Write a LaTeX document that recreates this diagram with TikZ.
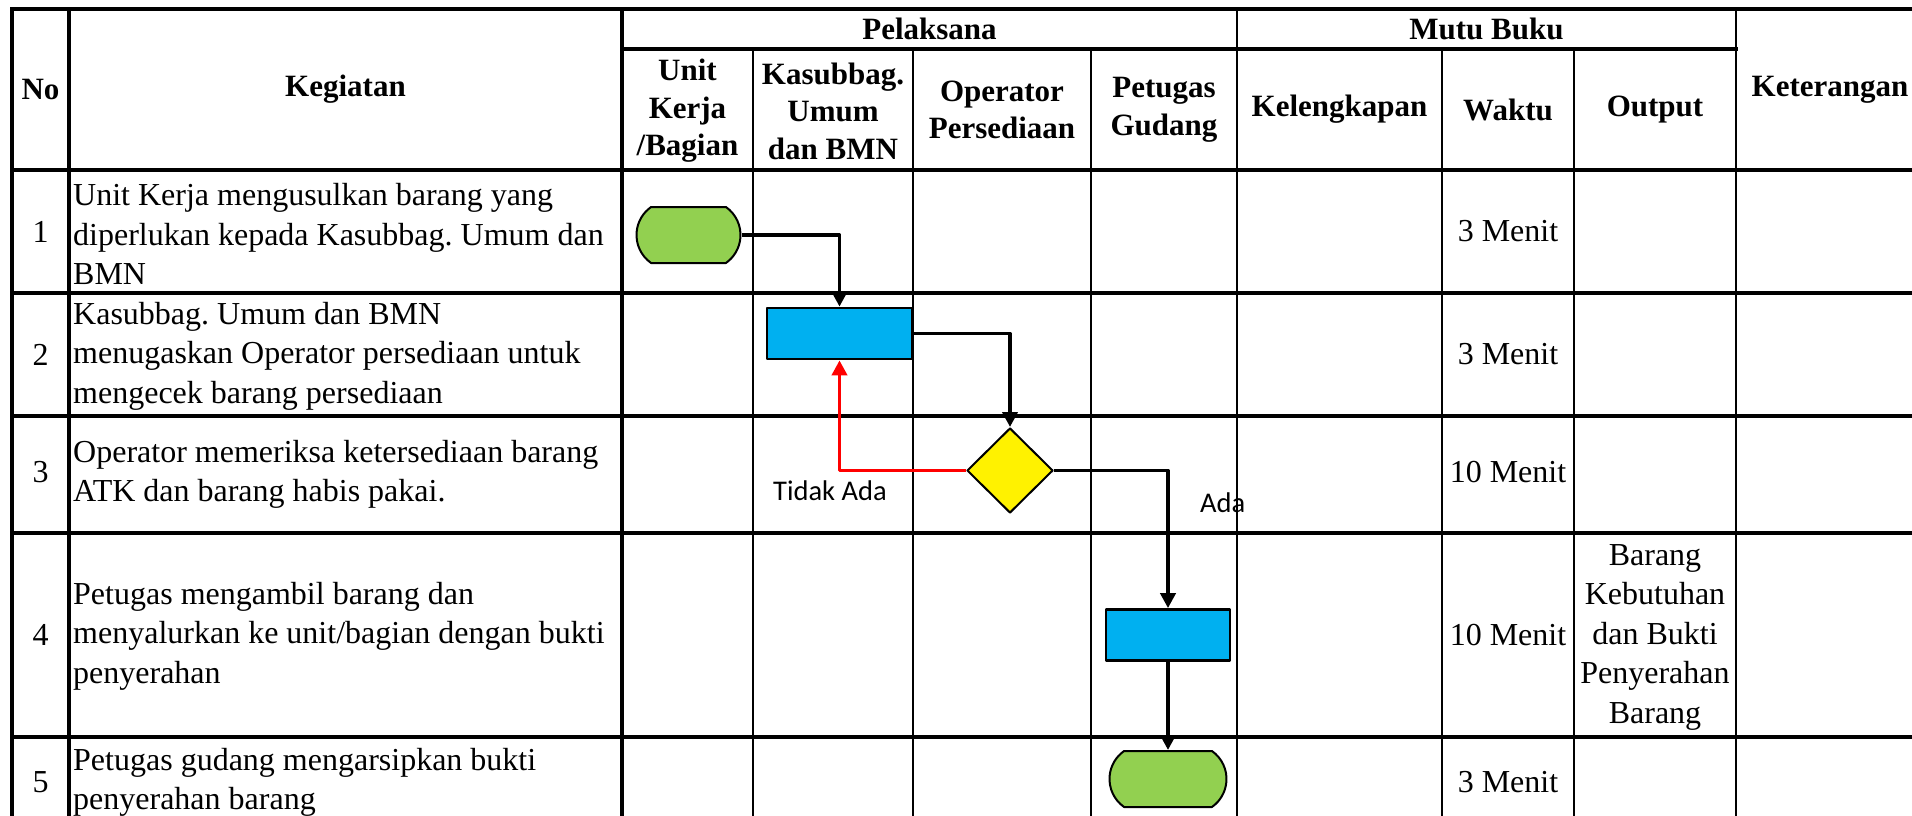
\documentclass[tikz,border=0pt]{standalone}
\usepackage{fontspec}
\setmainfont{Liberation Serif}
\newfontfamily\labelfont{Carlito}
\usetikzlibrary{shapes.geometric,shapes.misc,arrows.meta}
\definecolor{termgreen}{HTML}{92D050}
\definecolor{procblue}{HTML}{00B0F0}
\frenchspacing
\begin{document}
\begin{tikzpicture}[x=1pt,y=-1pt,line join=round,
    grid/.style={line width=2.6pt,line cap=rect},
    rowline/.style={line width=3.6pt,line cap=rect},
    head/.style={font=\fontsize{31}{37.5}\selectfont\bfseries,align=center,inner sep=0pt},
    cell/.style={font=\fontsize{32}{39.5}\selectfont,align=center,inner sep=0pt},
    task/.style={font=\fontsize{32}{39.5}\selectfont,align=left,inner sep=0pt,anchor=west},
    term/.style={draw,line width=2pt,fill=termgreen,rounded rectangle,rounded rectangle arc length=110,
      minimum width=104pt,minimum height=56pt,inner sep=0pt},
    proc/.style={draw,line width=2.7pt,fill=procblue,minimum height=51pt,inner sep=0pt},
    dec/.style={draw,line width=2pt,fill=yellow,diamond,minimum width=86pt,minimum height=85pt,inner sep=0pt},
    flow/.style={line width=3.8pt,-{Triangle[width=15pt,length=15pt]}},
    lbl/.style={font=\labelfont\fontsize{28.5}{34}\selectfont,inner sep=0pt,anchor=base west}]
  \useasboundingbox (0,0) rectangle (1912,816);
  \clip (0,0) rectangle (1912,816);
  \draw[rowline] (12,9) -- (1924,9) (622,49) -- (1736,49);
  \foreach \y in {170,293,416,533,737}
    \draw[rowline] (12,\y) -- (1924,\y);
  \foreach \x in {12,69,622}
    \draw[rowline] (\x,9) -- (\x,828);
  \foreach \x in {1237,1736}
    \draw[grid] (\x,9) -- (\x,828);
  \foreach \x in {753,913,1091,1442,1574}
    \draw[grid] (\x,49) -- (\x,828);

  \node[head] (hNo) at (40.5,89.5) {No};
  \node[head] (hKeg) at (345.5,89.5) {Kegiatan};
  \node[head] (hPel) at (929.5,29) {Pelaksana};
  \node[head] (hMutu) at (1486.5,29) {Mutu Buku};
  \node[head] (hKet) at (1830,89.5) {Keterangan};
  \node[head] (hUnit) at (687.5,111) {Unit\\Kerja\\/Bagian};
  \node[head] (hKasub) at (833,111) {Kasubbag.\\Umum\\dan BMN};
  \node[head] (hOp) at (1002,110) {Operator\\Persediaan};
  \node[head] (hPet) at (1164,110) {Petugas\\Gudang};
  \node[head] (hKel) at (1339.5,109.5) {Kelengkapan};
  \node[head] (hWaktu) at (1508,109.5) {Waktu};
  \node[head] (hOut) at (1655,109.5) {Output};

  \node[cell] (n1) at (40.5,231.5) {1};
  \node[cell] (n2) at (40.5,354.5) {2};
  \node[cell] (n3) at (40.5,472) {3};
  \node[cell] (n4) at (40.5,635) {4};
  \node[cell] (n5) at (40.5,782.5) {5};
  \node[task] (k1) at (73,234) {Unit Kerja mengusulkan barang yang\\diperlukan kepada Kasubbag. Umum dan\\BMN};
  \node[task] (k2) at (73,356) {Kasubbag. Umum dan BMN\\menugaskan Operator persediaan untuk\\mengecek barang persediaan};
  \node[task] (k3) at (73,474.5) {Operator memeriksa ketersediaan barang\\ATK dan barang habis pakai.};
  \node[task] (k4) at (73,636) {Petugas mengambil barang dan\\menyalurkan ke unit/bagian dengan bukti\\penyerahan};
  \node[task] (k5) at (73,782.5) {Petugas gudang mengarsipkan bukti\\penyerahan barang};
  \node[cell] (w1) at (1508,231.5) {3 Menit};
  \node[cell] (w2) at (1508,354.5) {3 Menit};
  \node[cell] (w3) at (1508,472) {10 Menit};
  \node[cell] (w4) at (1508,635) {10 Menit};
  \node[cell] (w5) at (1508,782.5) {3 Menit};
  \node[cell] (out4) at (1655,637) {Barang\\Kebutuhan\\dan Bukti\\Penyerahan\\Barang};

  \node[term] (t1) at (688.5,235) {};
  \node[proc,minimum width=145pt] (b2) at (839.5,333.5) {};
  \node[dec] (d3) at (1010,470.5) {};
  \node[proc,minimum width=124pt] (b4) at (1168,635) {};
  \node[term,minimum width=117pt] (t5) at (1168,779) {};
  \node[lbl] (lTidak) at (773,500) {Tidak Ada};
  \node[lbl] (lAda) at (1200,512) {Ada};

  \draw[flow] (t1.east) -| (b2.north);
  \draw[flow] (b2.east) -| (d3.north);
  \draw[flow,red] (d3.west) -| (b2.south);
  \draw[flow] (d3.east) -| (b4.north);
  \draw[flow] (b4.south) -- (t5.north);
\end{tikzpicture}
\end{document}
